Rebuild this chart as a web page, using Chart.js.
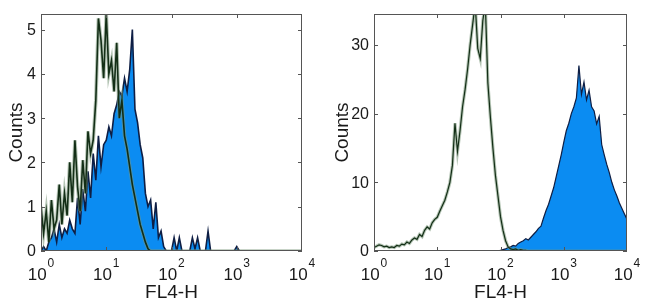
<!DOCTYPE html>
<html>
<head>
<meta charset="utf-8">
<script src="https://cdn.jsdelivr.net/npm/chart.js@4.4.0/dist/chart.umd.min.js"></script>
<style>
  html, body { margin: 0; padding: 0; background: #fff; }
  #wrap { display: flex; width: 650px; height: 308px; }
  canvas { display: block; }
</style>
</head>
<body>
<div id="wrap">
  <canvas id="leftChart" width="325" height="308"></canvas>
  <canvas id="rightChart" width="325" height="308"></canvas>
</div>
<script>
// FL4-H histograms, 25 channels per decade from 10^0 to 10^4 (101 channels)
const decades = [1, 10, 100, 1000, 10000];
const decadeExponents = ['0', '1', '2', '3', '4'];

const leftTicks = [0, 1, 2, 3, 4, 5];
const rightTicks = [0, 10, 20, 30];

// left panel - isotype control (green line)
const leftIsotype = [
  1.0, 0.4, 0.9, 0.2, 1.15, 0.5, 0.7, 1.5, 0.6, 1.3,
  0.8, 2.0, 1.1, 2.5, 1.45, 0.9, 2.05, 1.3, 2.7, 2.2,
  2.5, 3.4, 5.25, 4.75, 3.9, 5.35, 4.0, 4.3, 3.6, 4.7,
  3.0, 3.4, 2.6, 2.3, 1.9, 1.5, 1.2, 0.9, 0.6, 0.4,
  0.2, 0.05, 0, 0, 0, 0, 0, 0, 0, 0,
  0, 0, 0, 0, 0, 0, 0, 0, 0, 0,
  0, 0, 0, 0, 0, 0, 0, 0, 0, 0,
  0, 0, 0, 0, 0, 0, 0, 0, 0, 0,
  0, 0, 0, 0, 0, 0, 0, 0, 0, 0,
  0, 0, 0, 0, 0, 0, 0, 0, 0, 0,
  0
];

// left panel - stained sample (blue fill)
const leftStained = [
  0, 0.1, 0, 0.2, 0.3, 0.5, 0.2, 0.6, 0.3, 0.5,
  0.4, 0.7, 0.5, 0.4, 1.2, 0.6, 1.4, 0.9, 1.8, 1.2,
  2.2, 1.6, 2.6, 1.9, 2.4, 2.5, 2.8, 2.6, 3.1, 3.3,
  3.6, 3.5, 3.9, 3.6, 4.1, 5.0, 3.2, 2.9, 2.4, 2.1,
  1.3, 1.0, 1.15, 0.5, 1.1, 0.3, 0.45, 0.1, 0, 0,
  0, 0.3, 0, 0.3, 0, 0, 0, 0, 0.3, 0.05,
  0.3, 0, 0, 0, 0.45, 0, 0, 0, 0, 0,
  0, 0, 0, 0, 0, 0.1, 0, 0, 0, 0,
  0, 0, 0, 0, 0, 0, 0, 0, 0, 0,
  0, 0, 0, 0, 0, 0, 0, 0, 0, 0,
  0
];

// right panel - isotype control (green line)
const rightIsotype = [
  0.5, 0.7, 0.9, 0.8, 0.6, 0.7, 0.5, 0.6, 0.5, 0.8,
  0.7, 1.0, 0.9, 1.3, 1.1, 1.6, 1.9, 1.7, 2.4, 2.1,
  3.0, 3.5, 3.2, 4.1, 4.6, 4.9, 5.8, 6.6, 7.4, 8.6,
  10.0, 12.5, 18.6, 14.5, 17.5, 21.0, 23.5, 26.5, 30.0, 33.0,
  36.0, 29.5, 28.0, 33.5, 36.0, 24.5, 19.5, 15.0, 11.0, 8.0,
  5.0, 3.0, 1.5, 0.6, 0.3, 0.2, 0.3, 0.1, 0.2, 0.1,
  0.1, 0, 0, 0, 0, 0, 0, 0, 0, 0,
  0, 0, 0, 0, 0, 0, 0, 0, 0, 0,
  0, 0, 0, 0, 0, 0, 0, 0, 0, 0,
  0, 0, 0, 0, 0, 0, 0, 0, 0, 0,
  0
];

// right panel - stained sample (blue fill)
const rightStained = [
  0, 0, 0, 0, 0, 0, 0, 0, 0, 0,
  0, 0, 0, 0, 0, 0, 0, 0, 0, 0,
  0, 0, 0, 0, 0, 0, 0, 0, 0, 0,
  0, 0, 0, 0, 0, 0, 0, 0, 0, 0,
  0, 0, 0, 0, 0, 0, 0, 0, 0, 0,
  0.1, 0.2, 0.3, 0.5, 0.6, 0.8, 0.7, 1.1, 1.3, 1.5,
  1.8, 1.6, 2.0, 2.4, 2.8, 3.3, 3.6, 4.8, 5.9, 6.8,
  8.0, 9.2, 10.8, 12.4, 14.0, 15.8, 17.5, 18.6, 20.0, 21.0,
  22.3, 27.0, 22.8, 24.6, 22.0, 23.4, 21.0, 20.4, 18.5, 19.6,
  15.5, 14.0, 12.6, 11.4, 10.0, 8.9, 8.0, 7.0, 6.2, 5.4,
  4.6
];

const FONT = '"Liberation Sans", Arial, sans-serif';
const TEXT_COLOR = '#1a1a1a';

// channel value of each histogram bin (log spaced)
function toPoints(counts) {
  return counts.map((c, i) => ({ x: Math.pow(10, i / 25), y: c }));
}

// MATLAB-style box, inward ticks and labels
const facsAxes = {
  id: 'facsAxes',
  afterDraw(chart, args, opts) {
    const { ctx, chartArea: a } = chart;
    const x = chart.scales.x;
    const y = chart.scales.y;
    ctx.save();

    // frame
    ctx.strokeStyle = '#555';
    ctx.lineWidth = 1;
    ctx.strokeRect(a.left + 0.5, a.top + 0.5, a.width - 1, a.height - 1);

    // tick marks
    ctx.beginPath();
    opts.yTicks.forEach(v => {
      const py = Math.round(y.getPixelForValue(v)) + 0.5;
      ctx.moveTo(a.left, py); ctx.lineTo(a.left + 4, py);
      ctx.moveTo(a.right, py); ctx.lineTo(a.right - 4, py);
    });
    decades.slice(1, -1).forEach(d => {
      const px = Math.round(x.getPixelForValue(d)) + 0.5;
      ctx.moveTo(px, a.bottom); ctx.lineTo(px, a.bottom - 4);
      ctx.moveTo(px, a.top); ctx.lineTo(px, a.top + 4);
    });
    ctx.stroke();

    ctx.fillStyle = TEXT_COLOR;

    // y tick labels
    ctx.font = '16px ' + FONT;
    ctx.textAlign = 'right';
    ctx.textBaseline = 'middle';
    opts.yTicks.forEach(v => {
      ctx.fillText(String(v), a.left - 5, y.getPixelForValue(v) + 1);
    });

    // x tick labels 10^n
    ctx.textAlign = 'left';
    ctx.textBaseline = 'alphabetic';
    decades.forEach((d, k) => {
      const px = x.getPixelForValue(d);
      ctx.font = '17px ' + FONT;
      const w1 = ctx.measureText('10').width;
      ctx.font = '12px ' + FONT;
      const w2 = ctx.measureText(decadeExponents[k]).width;
      const left = px - (w1 + 1 + w2) / 2;
      ctx.font = '17px ' + FONT;
      ctx.fillText('10', left, a.bottom + 29);
      ctx.font = '12px ' + FONT;
      ctx.fillText(decadeExponents[k], left + w1 + 1, a.bottom + 16);
    });

    // axis titles
    ctx.font = '19px ' + FONT;
    ctx.textAlign = 'center';
    ctx.fillText('FL4-H', (a.left + a.right) / 2, a.bottom + 47);

    ctx.translate(opts.titleX, (a.top + a.bottom) / 2);
    ctx.rotate(-Math.PI / 2);
    ctx.textBaseline = 'middle';
    ctx.fillText('Counts', 0, 0);

    ctx.restore();
  }
};

function histogramChart(canvasId, isotype, stained, yMax, yTicks, padLeft, titleX, lineW) {
  return new Chart(document.getElementById(canvasId), {
    type: 'line',
    data: {
      datasets: [
        {
          label: 'Isotype',
          data: toPoints(isotype),
          borderColor: '#132e16',
          borderWidth: lineW,
          fill: false,
          order: 0
        },
        {
          label: 'Isotype halo',
          data: toPoints(isotype),
          borderColor: 'rgba(120, 150, 120, 0.55)',
          borderWidth: lineW + 2,
          fill: false,
          order: 1
        },
        {
          label: 'Stained',
          data: toPoints(stained),
          borderColor: '#0e1e44',
          backgroundColor: '#0b8cf2',
          borderWidth: lineW,
          fill: 'origin',
          order: 2
        }
      ]
    },
    options: {
      responsive: false,
      animation: false,
      devicePixelRatio: 1,
      layout: { padding: { left: padLeft, right: 23, top: 14, bottom: 57 } },
      elements: { point: { radius: 0 }, line: { tension: 0 } },
      plugins: {
        legend: { display: false },
        tooltip: { enabled: false },
        facsAxes: { yTicks: yTicks, titleX: titleX }
      },
      scales: {
        x: { type: 'logarithmic', min: 1, max: 10000, display: false },
        y: { min: 0, max: yMax, display: false }
      }
    },
    plugins: [facsAxes]
  });
}

histogramChart('leftChart', leftIsotype, leftStained, 5.35, leftTicks, 41, 17, 1.6);
histogramChart('rightChart', rightIsotype, rightStained, 34.5, rightTicks, 49, 18, 1.2);
</script>
</body>
</html>
